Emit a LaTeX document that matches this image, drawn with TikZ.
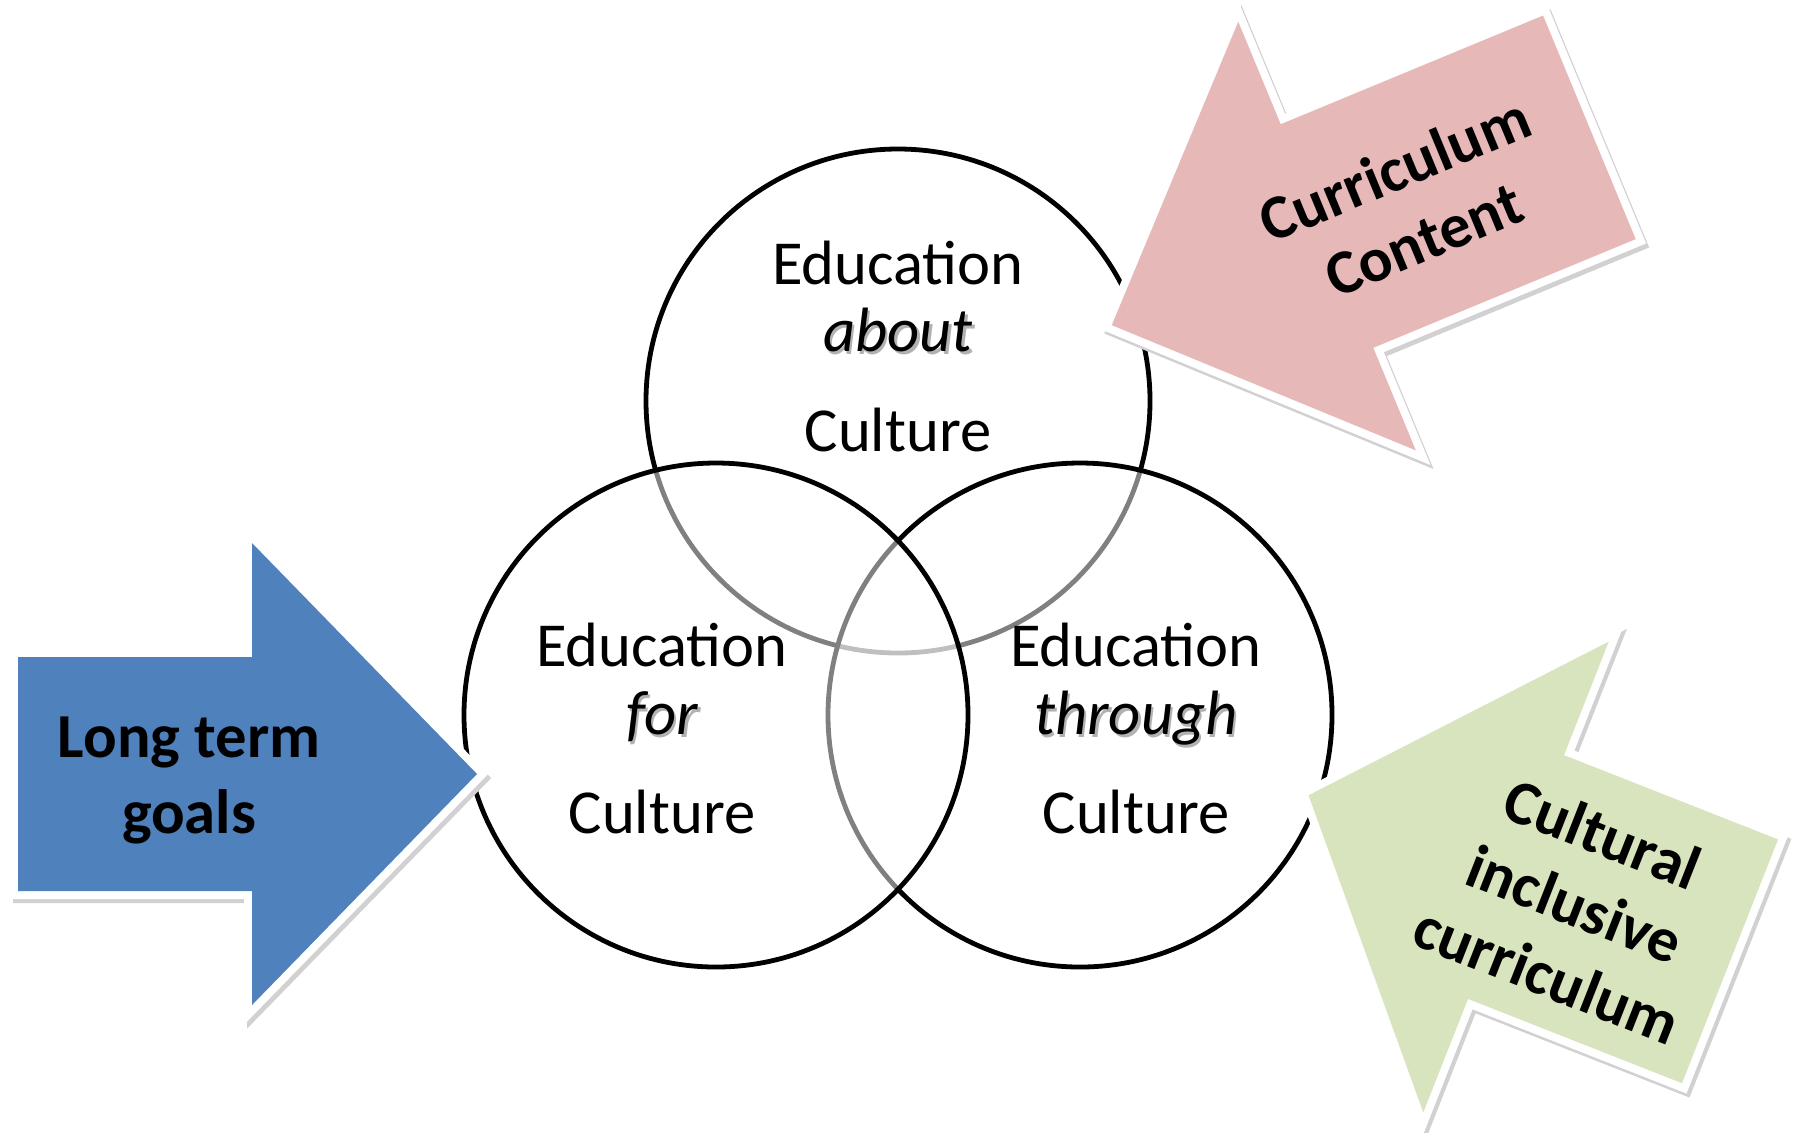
\documentclass[tikz,border=0pt]{standalone}
\usepackage{fontspec}
\setmainfont{Carlito}
\definecolor{arrowblue}{RGB}{79,129,189}
\definecolor{arrowpink}{RGB}{230,185,184}
\definecolor{arrowgreen}{RGB}{215,228,189}
% #1,#2 base midpoint, #3 angle, #4 head half-width, #5 shaft half-width,
% #6 head length, #7 shaft length, #8 colour
\newcommand\blkarrow[8]{%
  \begin{scope}[shift={(#1+3,#2+4)},rotate=#3]
    \filldraw[black!18,line width=8pt,line join=miter] (#6,0) -- (0,#4) -- (0,#5) -- (-#7,#5) -- (-#7,-#5) -- (0,-#5) -- (0,-#4) -- cycle;
  \end{scope}
  \begin{scope}[shift={(#1,#2)},rotate=#3]
    \filldraw[white,line width=8pt,line join=miter] (#6,0) -- (0,#4) -- (0,#5) -- (-#7,#5) -- (-#7,-#5) -- (0,-#5) -- (0,-#4) -- cycle;
    \fill[#8] (#6,0) -- (0,#4) -- (0,#5) -- (-#7,#5) -- (-#7,-#5) -- (0,-#5) -- (0,-#4) -- cycle;
  \end{scope}}
\begin{document}
\begin{tikzpicture}[x={(0.5pt,0)},y={(0,-0.5pt)},
  venn/.style={circle,draw=black,line width=2.4pt,fill=white,fill opacity=0.5,
    minimum size=252pt,inner sep=0pt,outer sep=0pt},
  ctext/.style={anchor=base,inner sep=0pt,font=\fontsize{31.3}{38}\selectfont},
  cshadow/.style={ctext,text=black!30},
  atext/.style={align=center,inner sep=0pt,font=\fontsize{31.3}{38}\selectfont\bfseries}]
\useasboundingbox (0,0) rectangle (1802,1132);

% Venn circles (drawn top, right, left)
\node[venn] (cTop) at (898,401) {};
\node[venn] (cRight) at (1080,715) {};
\node[venn] (cLeft) at (716,715) {};

% top circle text
\node[ctext] (tEduA) at (898,284) {Education};
\node[cshadow] (sAbout) at (900.5,354.7) {\itshape about};
\node[ctext] (tAbout) at (898,351.7) {\itshape about};
\node[ctext] (tCultA) at (898,451) {Culture};

% left circle text
\node[ctext] (tEduF) at (662,666.5) {Education};
\node[cshadow] (sFor) at (664.5,737.5) {\itshape for};
\node[ctext] (tFor) at (662,734.5) {\itshape for};
\node[ctext] (tCultF) at (662,833) {Culture};

% right circle text
\node[ctext] (tEduT) at (1136,666.5) {Education};
\node[cshadow] (sThrough) at (1138.5,737.5) {\itshape through};
\node[ctext] (tThrough) at (1136,734.5) {\itshape through};
\node[ctext] (tCultT) at (1136,833) {Culture};

% block arrows
\blkarrow{252}{774}{0}{231}{117}{225}{234}{arrowblue}
\blkarrow{1327}{236}{202.5}{232}{121}{233}{284}{arrowpink}
\blkarrow{1516}{877}{158.5}{253}{131}{223}{230}{arrowgreen}

% arrow labels
\node[atext] (lGoals) at (189,780) {Long term\\goals};
\node[atext,rotate=22.5] (lContent) at (1409,204) {Curriculum\\Content};
\node[atext,rotate=-21.5] (lInclusive) at (1575,904) {Cultural\\inclusive\\curriculum};
\end{tikzpicture}
\end{document}
